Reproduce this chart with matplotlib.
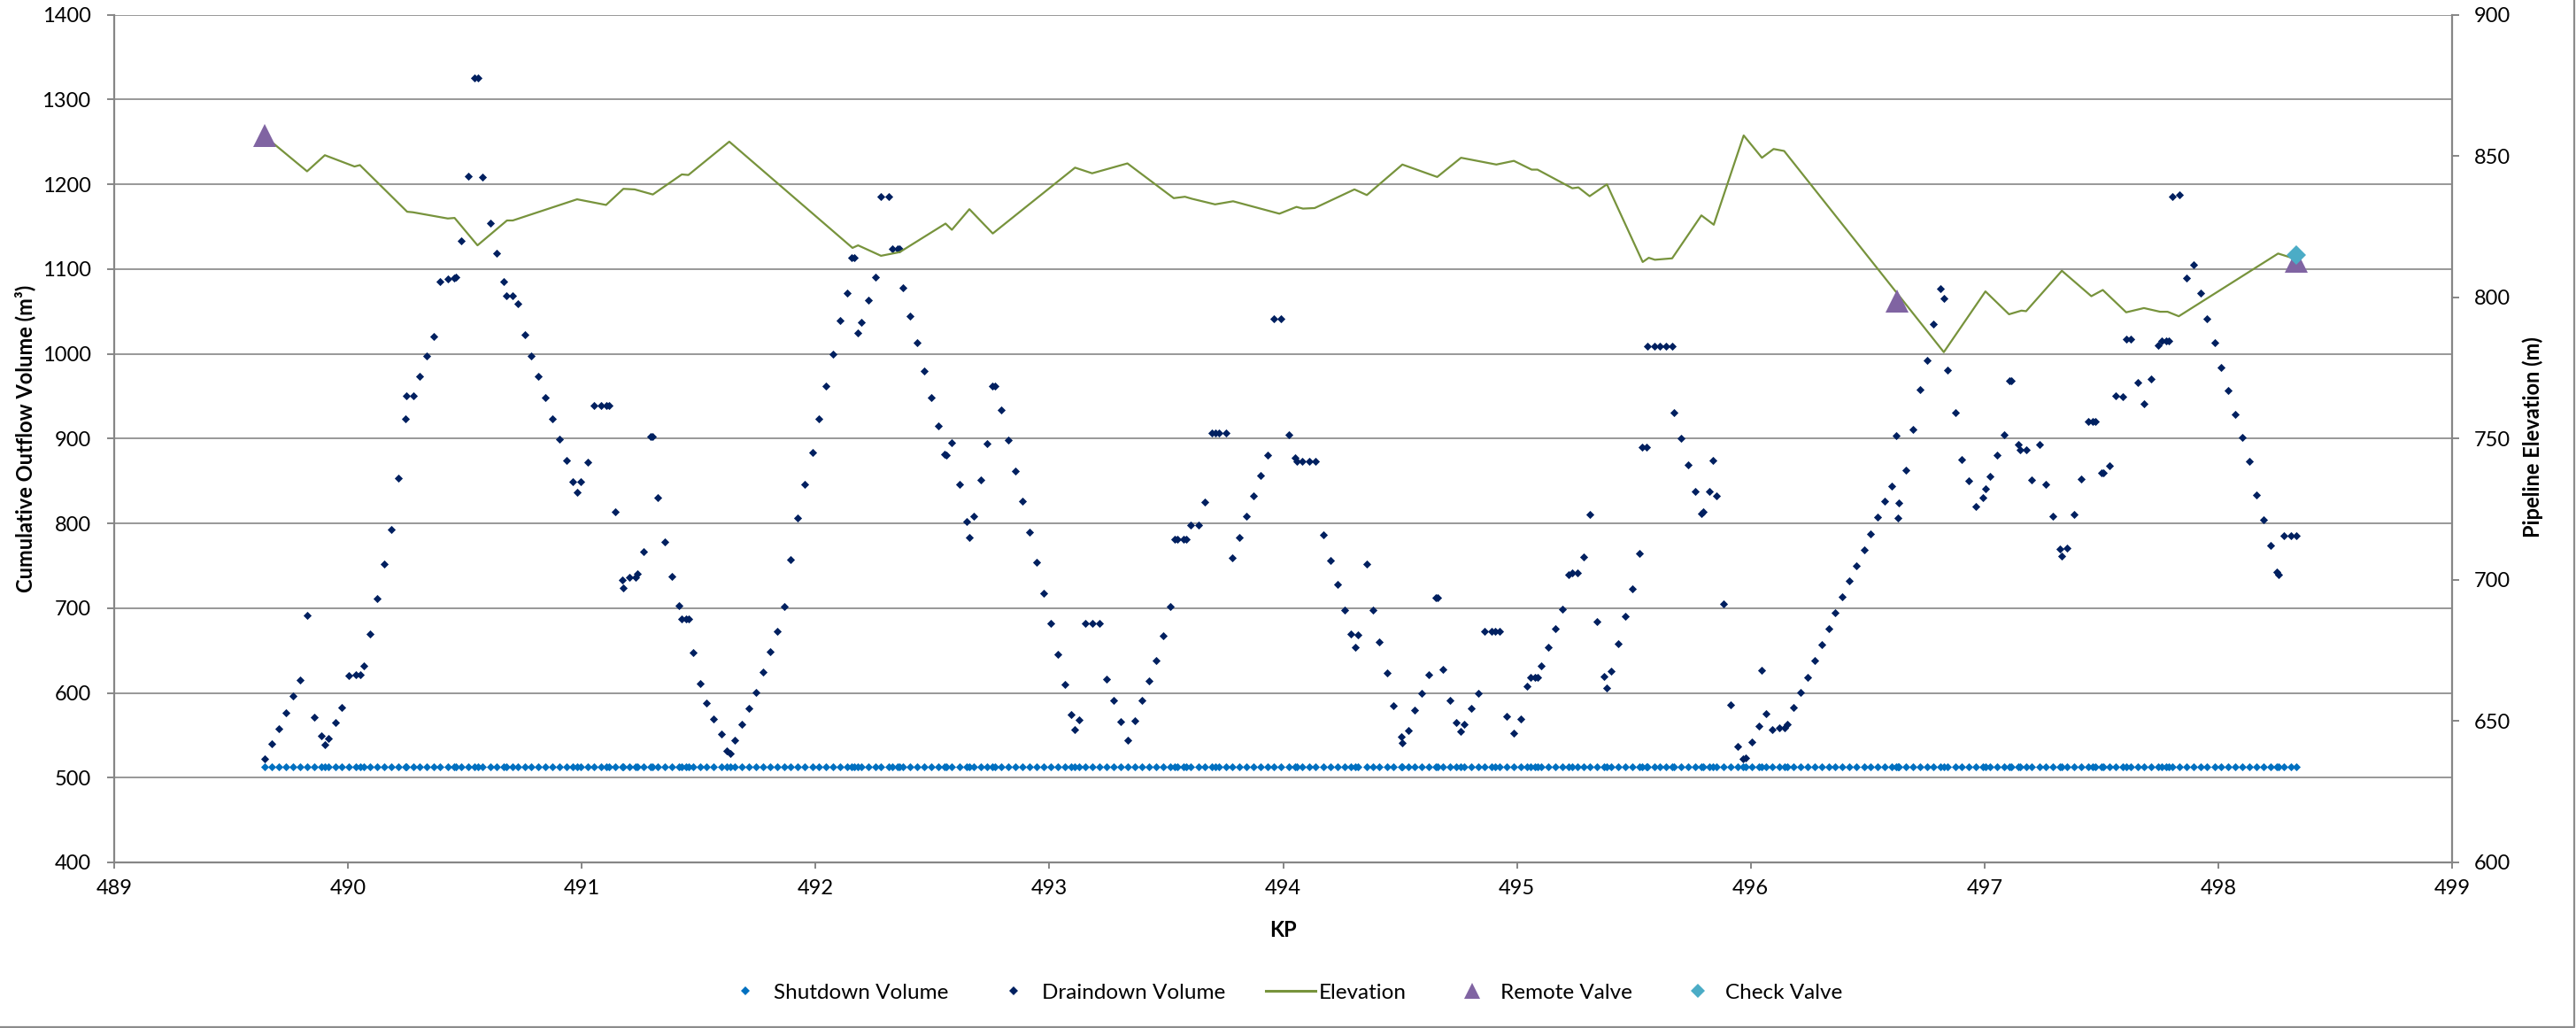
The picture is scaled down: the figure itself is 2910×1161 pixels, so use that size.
import matplotlib
matplotlib.use("Agg")
import matplotlib.pyplot as plt
from matplotlib.lines import Line2D
from matplotlib.ticker import MultipleLocator

plt.rcParams["font.family"] = ["Lato", "DejaVu Sans"]

# draindown volume along the line (KP, m3)
draindown_kp = [
    489.644, 489.673, 489.705, 489.734, 489.765, 489.795, 489.825, 489.854, 489.885, 489.901,
    489.916, 489.946, 489.975, 490.003, 490.032, 490.051, 490.066, 490.095, 490.125, 490.154,
    490.184, 490.215, 490.244, 490.249, 490.278, 490.306, 490.338, 490.366, 490.395, 490.427,
    490.454, 490.461, 490.486, 490.516, 490.542, 490.557, 490.576, 490.608, 490.637, 490.667,
    490.679, 490.705, 490.727, 490.756, 490.784, 490.814, 490.845, 490.874, 490.904, 490.934,
    490.963, 490.979, 490.994, 491.024, 491.053, 491.083, 491.106, 491.115, 491.144, 491.174,
    491.178, 491.205, 491.229, 491.236, 491.265, 491.293, 491.302, 491.324, 491.355, 491.385,
    491.415, 491.429, 491.446, 491.457, 491.475, 491.505, 491.535, 491.564, 491.596, 491.622,
    491.634, 491.654, 491.684, 491.715, 491.745, 491.775, 491.806, 491.835, 491.865, 491.894,
    491.924, 491.955, 491.986, 492.015, 492.044, 492.074, 492.105, 492.135, 492.155, 492.167,
    492.181, 492.196, 492.226, 492.255, 492.280, 492.314, 492.328, 492.350, 492.360, 492.375,
    492.404, 492.434, 492.463, 492.494, 492.524, 492.552, 492.558, 492.583, 492.615, 492.646,
    492.658, 492.676, 492.706, 492.735, 492.758, 492.767, 492.794, 492.825, 492.855, 492.885,
    492.916, 492.946, 492.975, 493.005, 493.035, 493.066, 493.095, 493.108, 493.126, 493.154,
    493.183, 493.216, 493.245, 493.275, 493.305, 493.334, 493.364, 493.395, 493.425, 493.455,
    493.486, 493.516, 493.536, 493.549, 493.574, 493.586, 493.605, 493.637, 493.665, 493.694,
    493.712, 493.725, 493.754, 493.783, 493.813, 493.844, 493.874, 493.904, 493.934, 493.962,
    493.990, 494.024, 494.053, 494.059, 494.083, 494.111, 494.139, 494.173, 494.203, 494.233,
    494.264, 494.290, 494.308, 494.320, 494.356, 494.383, 494.412, 494.444, 494.473, 494.504,
    494.509, 494.534, 494.564, 494.593, 494.624, 494.653, 494.660, 494.682, 494.715, 494.742,
    494.760, 494.773, 494.804, 494.835, 494.861, 494.890, 494.905, 494.924, 494.955, 494.985,
    495.015, 495.042, 495.057, 495.076, 495.088, 495.105, 495.135, 495.164, 495.194, 495.223,
    495.237, 495.259, 495.284, 495.313, 495.343, 495.374, 495.385, 495.404, 495.434, 495.463,
    495.494, 495.524, 495.537, 495.556, 495.559, 495.587, 495.612, 495.638, 495.663, 495.673,
    495.703, 495.734, 495.764, 495.789, 495.795, 495.823, 495.840, 495.854, 495.884, 495.914,
    495.943, 495.966, 495.979, 496.005, 496.035, 496.048, 496.064, 496.093, 496.121, 496.146,
    496.155, 496.184, 496.215, 496.244, 496.274, 496.303, 496.333, 496.362, 496.393, 496.423,
    496.453, 496.484, 496.514, 496.544, 496.573, 496.604, 496.624, 496.628, 496.634, 496.663,
    496.693, 496.723, 496.754, 496.783, 496.812, 496.827, 496.843, 496.874, 496.904, 496.933,
    496.963, 496.992, 497.004, 497.024, 497.053, 497.083, 497.105, 497.116, 497.143, 497.154,
    497.177, 497.203, 497.234, 497.263, 497.293, 497.322, 497.331, 497.354, 497.383, 497.413,
    497.443, 497.461, 497.473, 497.501, 497.509, 497.534, 497.562, 497.593, 497.606, 497.625,
    497.654, 497.684, 497.713, 497.744, 497.758, 497.777, 497.787, 497.802, 497.833, 497.865,
    497.894, 497.924, 497.953, 497.984, 498.013, 498.042, 498.073, 498.102, 498.132, 498.163,
    498.193, 498.223, 498.252, 498.256, 498.281, 498.310, 498.335,
]
draindown_volume = [
    522, 540, 558, 577, 596, 615, 691, 571, 549, 539,
    546, 565, 583, 620, 621, 621, 632, 670, 711, 752,
    793, 853, 923, 951, 951, 973, 997, 1021, 1085, 1088,
    1089, 1091, 1133, 1210, 1325, 1325, 1208, 1154, 1119, 1085,
    1069, 1069, 1059, 1023, 998, 973, 948, 923, 899, 874,
    849, 837, 849, 872, 939, 939, 939, 939, 814, 733,
    724, 736, 736, 741, 767, 902, 902, 830, 778, 737,
    703, 687, 687, 687, 648, 611, 588, 569, 551, 532,
    529, 544, 563, 582, 601, 625, 649, 673, 702, 757,
    806, 846, 884, 923, 962, 1000, 1039, 1072, 1113, 1113,
    1025, 1037, 1063, 1090, 1186, 1186, 1124, 1124, 1124, 1078,
    1045, 1013, 980, 948, 915, 882, 880, 895, 846, 802,
    783, 808, 851, 894, 962, 962, 934, 898, 862, 826,
    790, 754, 718, 682, 646, 610, 574, 557, 568, 682,
    682, 682, 616, 591, 566, 544, 567, 591, 614, 638,
    667, 702, 781, 781, 781, 781, 798, 798, 825, 907,
    907, 907, 907, 759, 783, 808, 832, 856, 881, 1041,
    1041, 905, 877, 873, 873, 873, 873, 787, 756, 728,
    698, 669, 654, 668, 752, 698, 660, 624, 585, 548,
    541, 556, 580, 600, 621, 712, 712, 628, 591, 565,
    555, 563, 582, 600, 673, 673, 673, 673, 572, 552,
    569, 608, 618, 618, 618, 632, 654, 676, 699, 739,
    742, 742, 760, 811, 684, 619, 606, 626, 658, 690,
    723, 765, 890, 890, 1009, 1009, 1009, 1009, 1009, 931,
    900, 869, 838, 812, 814, 838, 874, 832, 705, 586,
    537, 522, 523, 542, 561, 627, 575, 557, 559, 559,
    563, 583, 601, 618, 638, 657, 676, 695, 713, 732,
    750, 769, 788, 807, 826, 844, 904, 806, 824, 863,
    911, 958, 992, 1035, 1077, 1065, 981, 931, 875, 850,
    820, 830, 841, 855, 881, 905, 968, 968, 893, 887,
    887, 851, 893, 846, 808, 770, 761, 771, 811, 852,
    920, 920, 920, 860, 860, 868, 950, 949, 1017, 1017,
    966, 941, 970, 1010, 1015, 1015, 1015, 1186, 1188, 1089,
    1105, 1072, 1041, 1013, 984, 957, 929, 901, 873, 833,
    804, 774, 743, 740, 785, 785, 785,
]

# shutdown volume is the same at every point
shutdown_volume = 513

# pipeline profile (KP, m)
elevation_kp = [
    489.644, 489.825, 489.901, 490.028, 490.051, 490.253, 490.278, 490.427, 490.456, 490.554,
    490.680, 490.705, 490.980, 491.104, 491.178, 491.226, 491.304, 491.428, 491.456, 491.631,
    492.158, 492.182, 492.280, 492.360, 492.556, 492.583, 492.658, 492.758, 493.110, 493.183,
    493.334, 493.532, 493.580, 493.609, 493.709, 493.786, 493.984, 494.057, 494.085, 494.135,
    494.305, 494.358, 494.510, 494.659, 494.761, 494.912, 494.987, 495.063, 495.088, 495.237,
    495.263, 495.311, 495.385, 495.538, 495.564, 495.590, 495.664, 495.789, 495.842, 495.970,
    496.048, 496.098, 496.143, 496.826, 497.004, 497.105, 497.158, 497.178, 497.331, 497.457,
    497.506, 497.606, 497.682, 497.751, 497.783, 497.831, 498.256, 498.306, 498.332,
]
elevation = [
    857.0, 844.6, 850.3, 846.3, 846.8, 830.3, 830.1, 827.9, 828.1, 818.4,
    827.2, 827.2, 834.7, 832.7, 838.4, 838.2, 836.4, 843.5, 843.3, 855.1,
    817.5, 818.4, 814.7, 816.0, 826.1, 823.9, 831.2, 822.6, 845.9, 843.9,
    847.4, 835.1, 835.6, 834.9, 832.9, 834.0, 829.6, 832.0, 831.4, 831.6,
    838.2, 836.2, 847.0, 842.6, 849.4, 847.0, 848.3, 845.2, 845.2, 838.6,
    838.9, 835.8, 840.0, 812.5, 814.0, 813.3, 813.8, 829.0, 825.7, 857.3,
    849.4, 852.5, 851.8, 780.6, 802.1, 794.0, 795.3, 795.1, 809.4, 800.4,
    802.6, 794.7, 796.2, 794.9, 794.9, 793.3, 815.5, 814.2, 814.0,
]

remote_valve_kp = [489.644, 496.626, 498.332]
remote_valve_elev = [857.3, 798.8, 812.8]
check_valve_kp = [498.332]
check_valve_elev = [815.0]

GRID = "#868686"
C_SHUT = "#0070C0"
C_DRAIN = "#002060"
C_ELEV = "#77933C"
C_REMOTE = "#8064A2"
C_CHECK = "#4BACC6"
FS = 17

fig = plt.figure(figsize=(29.1, 11.61), dpi=100)
ax = fig.add_axes([0.04433, 0.16107, 0.90756, 0.82455])
ax2 = ax.twinx()

ax.plot(draindown_kp, [shutdown_volume] * len(draindown_kp), linestyle="none",
        marker="D", ms=4.4, mew=0.6, color=C_SHUT, zorder=3)
ax.plot(draindown_kp, draindown_volume, linestyle="none",
        marker="D", ms=4.4, mew=0.6, color=C_DRAIN, zorder=4)

ax2.plot(elevation_kp, elevation, color=C_ELEV, lw=1.6, zorder=3)
ax2.plot(remote_valve_kp, remote_valve_elev, linestyle="none", marker="^",
         ms=18.5, mew=0, color=C_REMOTE, zorder=4)
ax2.plot(check_valve_kp, check_valve_elev, linestyle="none", marker="D",
         ms=11.5, mew=0, color=C_CHECK, zorder=5)

ax.set_xlim(489, 499)
ax.set_ylim(400, 1400)
ax2.set_ylim(600, 900)
ax.xaxis.set_major_locator(MultipleLocator(1))
ax.yaxis.set_major_locator(MultipleLocator(100))
ax2.yaxis.set_major_locator(MultipleLocator(50))

ax.set_axisbelow(True)
ax.yaxis.grid(True, color=GRID, lw=1.2)

for a in (ax, ax2):
    for side, sp in a.spines.items():
        sp.set_color(GRID)
        sp.set_linewidth(1.6)
    a.spines["top"].set_visible(False)
ax.spines["right"].set_visible(False)
ax2.spines["left"].set_visible(False)
ax2.spines["bottom"].set_visible(False)

ax.tick_params(axis="y", direction="out", length=6, width=1.4, color=GRID,
               labelsize=FS, pad=13)
ax.tick_params(axis="x", direction="out", length=5, width=1.4, color=GRID,
               labelsize=FS, pad=9)
ax2.tick_params(axis="y", direction="out", length=6, width=1.4, color=GRID,
                labelsize=FS, pad=12)

fig.text(28 / 2910, 1 - 495 / 1161, "Cumulative Outflow Volume (m³)", rotation=90,
         ha="center", va="center", fontsize=FS, fontweight="bold")
fig.text(2861 / 2910, 1 - 494 / 1161, "Pipeline Elevation (m)", rotation=90,
         ha="center", va="center", fontsize=FS, fontweight="bold")
fig.text(1449 / 2910, 1 - 1050 / 1161, "KP", ha="center", va="center",
         fontsize=FS, fontweight="bold")

handles = [
    Line2D([], [], linestyle="none", marker="D", ms=5.5, mew=0, color=C_SHUT),
    Line2D([], [], linestyle="none", marker="D", ms=5.5, mew=0, color=C_DRAIN),
    Line2D([], [], color=C_ELEV, lw=2.2),
    Line2D([], [], linestyle="none", marker="^", ms=13, mew=0, color=C_REMOTE),
    Line2D([], [], linestyle="none", marker="D", ms=8.5, mew=0, color=C_CHECK),
]
labels = ["Shutdown Volume", "Draindown Volume", "Elevation", "Remote Valve", "Check Valve"]
fig.legend(handles, labels, loc="center", bbox_to_anchor=(1448 / 2910, 1 - 1121 / 1161),
           ncol=5, frameon=False, fontsize=17.5, handlelength=2.3, handletextpad=0.15,
           columnspacing=1.9, numpoints=1)

# chart frame on the right and bottom edges
fig.add_artist(Line2D([0, 0.99931, 0.99931], [0.00086, 0.00086, 1.0],
                      transform=fig.transFigure, color="#8c8c8c", lw=1.6))

fig.savefig("out.png", dpi=100)
